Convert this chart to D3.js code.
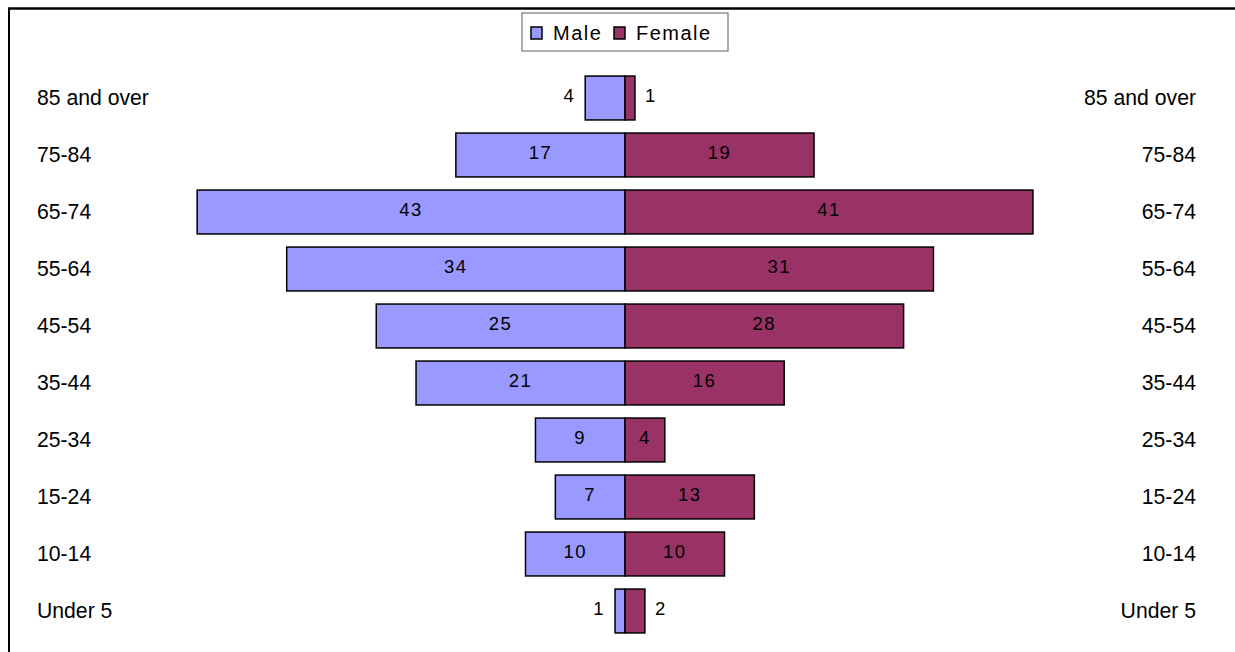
<!DOCTYPE html>
<html>
<head>
<meta charset="utf-8">
<script src="https://cdn.jsdelivr.net/npm/d3@7"></script>
<style>
  body { margin: 0; background: #fff; }
  svg { display: block; font-family: Arial, "Liberation Sans", sans-serif; }
</style>
</head>
<body>
<svg width="1235" height="652"></svg>
<script>
// age groups, top to bottom
var ageGroups = ["85 and over", "75-84", "65-74", "55-64", "45-54", "35-44", "25-34", "15-24", "10-14", "Under 5"];
var maleValues = [4, 17, 43, 34, 25, 21, 9, 7, 10, 1];
var femaleValues = [1, 19, 41, 31, 28, 16, 4, 13, 10, 2];
var seriesNames = ["Male", "Female"];
var seriesColors = ["#9999ff", "#993366"];

var svg = d3.select("svg");

var rows = ageGroups.map(function(g, i) {
    return { age: g, male: maleValues[i], female: femaleValues[i] };
});

var x = d3.scaleLinear()
    .domain([-50, 50])
    .range([127.5, 1122.5]);

var y = d3.scaleBand()
    .domain(ageGroups)
    .range([69.5, 639.5])
    .paddingInner(0.23)
    .paddingOuter(0.115);

// frame (only top and left edges show in the picture)
svg.append("line")
    .attr("x1", 8).attr("x2", 1235).attr("y1", 8.5).attr("y2", 8.5)
    .attr("stroke", "#000").attr("stroke-width", 2.5);
svg.append("line")
    .attr("x1", 9).attr("x2", 9).attr("y1", 8).attr("y2", 652)
    .attr("stroke", "#000").attr("stroke-width", 2);

// bars
var bars = svg.append("g");
bars.selectAll("rect.male")
    .data(rows)
    .enter().append("rect")
    .attr("class", "male")
    .attr("x", function(d) { return x(-d.male); })
    .attr("y", function(d) { return y(d.age); })
    .attr("width", function(d) { return x(0) - x(-d.male); })
    .attr("height", y.bandwidth())
    .attr("fill", seriesColors[0])
    .attr("stroke", "#000")
    .attr("stroke-width", 1.5);

bars.selectAll("rect.female")
    .data(rows)
    .enter().append("rect")
    .attr("class", "female")
    .attr("x", x(0))
    .attr("y", function(d) { return y(d.age); })
    .attr("width", function(d) { return x(d.female) - x(0); })
    .attr("height", y.bandwidth())
    .attr("fill", seriesColors[1])
    .attr("stroke", "#000")
    .attr("stroke-width", 1.5);

// value labels: small rows get their labels outside the bars
function outside(d) { return Math.max(d.male, d.female) < 5; }

var labels = svg.append("g")
    .attr("font-size", 18.5)
    .attr("letter-spacing", 1.5)
    .attr("fill", "#000");

labels.selectAll("text.male")
    .data(rows)
    .enter().append("text")
    .attr("x", function(d) {
        return outside(d) ? x(-d.male) - 10 : (x(-d.male) + x(0)) / 2;
    })
    .attr("y", function(d) { return y(d.age) + y.bandwidth() / 2 - 2; })
    .attr("dy", "0.35em")
    .attr("text-anchor", function(d) { return outside(d) ? "end" : "middle"; })
    .text(function(d) { return d.male; });

labels.selectAll("text.female")
    .data(rows)
    .enter().append("text")
    .attr("x", function(d) {
        return outside(d) ? x(d.female) + 10 : (x(0) + x(d.female)) / 2;
    })
    .attr("y", function(d) { return y(d.age) + y.bandwidth() / 2 - 2; })
    .attr("dy", "0.35em")
    .attr("text-anchor", function(d) { return outside(d) ? "start" : "middle"; })
    .text(function(d) { return d.female; });

// category labels on both sides
var cats = svg.append("g").attr("font-size", 21.2).attr("fill", "#000");
cats.selectAll("text.left")
    .data(ageGroups)
    .enter().append("text")
    .attr("x", 37)
    .attr("y", function(d) { return y(d) + y.bandwidth() / 2; })
    .attr("dy", "0.35em")
    .text(function(d) { return d; });
cats.selectAll("text.right")
    .data(ageGroups)
    .enter().append("text")
    .attr("x", 1196)
    .attr("y", function(d) { return y(d) + y.bandwidth() / 2; })
    .attr("dy", "0.35em")
    .attr("text-anchor", "end")
    .text(function(d) { return d; });

// legend
var legend = svg.append("g").attr("transform", "translate(522,13)");
legend.append("rect")
    .attr("width", 206).attr("height", 38)
    .attr("fill", "#fff")
    .attr("stroke", "#777").attr("stroke-width", 1.2);
var legendX = [9, 92];
var item = legend.selectAll("g.item")
    .data(seriesNames)
    .enter().append("g")
    .attr("transform", function(d, i) { return "translate(" + legendX[i] + ",14)"; });
item.append("rect")
    .attr("width", 11).attr("height", 12)
    .attr("fill", function(d, i) { return seriesColors[i]; })
    .attr("stroke", "#000").attr("stroke-width", 1.5);
item.append("text")
    .attr("x", 22)
    .attr("y", 6)
    .attr("dy", "0.35em")
    .attr("font-size", 20)
    .attr("letter-spacing", 1.5)
    .text(function(d) { return d; });
</script>
</body>
</html>
